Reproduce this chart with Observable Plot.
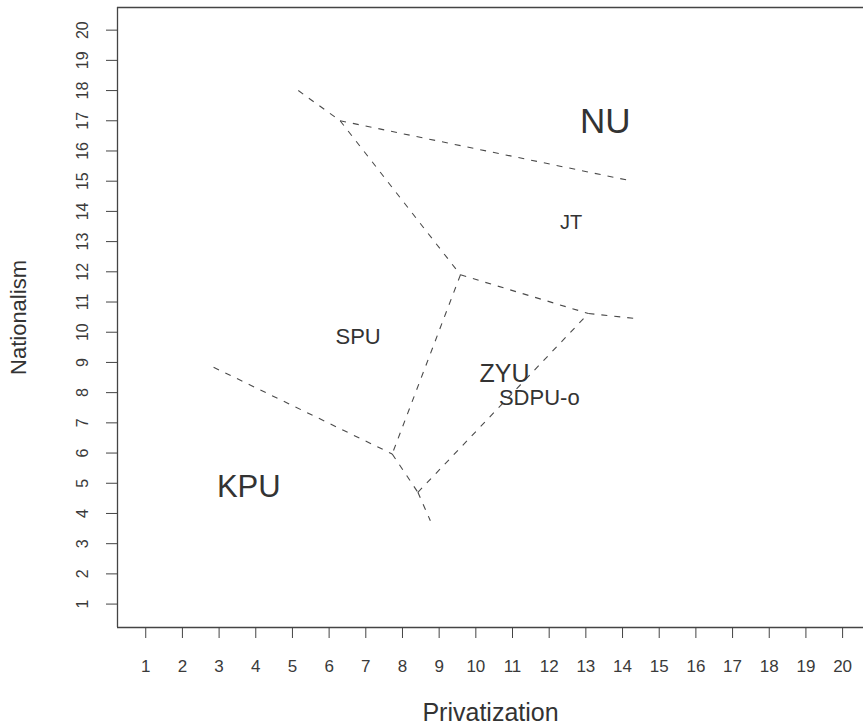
<!DOCTYPE html>
<html>
<head>
<meta charset="utf-8">
<script src="https://cdn.jsdelivr.net/npm/d3@7"></script>
<script src="https://cdn.jsdelivr.net/npm/@observablehq/plot@0.6"></script>
<style>
  html, body { margin: 0; padding: 0; background: #ffffff; }
  #chart svg { display: block; }
  #chart svg g[aria-label="x-axis tick label"],
  #chart svg g[aria-label="x-axis tick label"] text { font-size: 17px !important; }
  #chart svg g[aria-label="y-axis tick label"],
  #chart svg g[aria-label="y-axis tick label"] text { font-size: 16px !important; }
</style>
</head>
<body>
<div id="chart"></div>
<script>
// ---- data ----
const xTicks = [1,2,3,4,5,6,7,8,9,10,11,12,13,14,15,16,17,18,19,20];
const yTicks = [1,2,3,4,5,6,7,8,9,10,11,12,13,14,15,16,17,18,19,20];

// boundary segments (Privatization, Nationalism)
const segFromX = [5.16, 6.30, 6.30, 9.58, 13.07, 9.58, 2.85, 7.72, 8.42, 8.42];
const segFromY = [18.00, 17.00, 17.00, 11.90, 10.62, 11.90, 8.84, 5.97, 4.70, 4.70];
const segToX   = [6.30, 14.16, 9.58, 13.07, 14.38, 7.72, 7.72, 8.42, 8.76, 13.07];
const segToY   = [17.00, 15.03, 11.90, 10.62, 10.45, 5.97, 5.97, 4.70, 3.76, 10.62];

// party labels
const partyNames = ["NU", "JT", "SPU", "ZYU", "SDPU-o", "KPU"];
const partyX = [13.53, 12.60, 6.79, 10.78, 11.73, 3.81];
const partyY = [16.95, 13.63, 9.86, 8.63, 7.84, 4.86];

const xTitle = "Privatization";
const yTitle = "Nationalism";

// ---- styles ----
const labelFontSize = {"NU": 35, "JT": 20, "SPU": 22, "ZYU": 25, "SDPU-o": 22, "KPU": 31};
const segments = segFromX.map((_, i) => ({x1: segFromX[i], y1: segFromY[i], x2: segToX[i], y2: segToY[i]}));
const parties = partyNames.map((name, i) => ({name, x: partyX[i], y: partyY[i]}));

const chart = Plot.plot({
  width: 863,
  height: 725,
  marginLeft: 117,
  marginRight: 0,
  marginTop: 7,
  marginBottom: 98,
  x: {domain: [0.23, 20.57]},
  y: {domain: [0.225, 20.75]},
  style: {
    fontFamily: "'Liberation Sans', Arial, Helvetica, sans-serif",
    fontSize: "15px",
    color: "#3a3a3a",
    background: "#ffffff",
    overflow: "visible"
  },
  marks: [
    // frame (left, top, bottom)
    Plot.ruleX([0.23], {stroke: "#444", strokeWidth: 1.3}),
    Plot.ruleY([0.225, 20.75], {stroke: "#444", strokeWidth: 1.3}),
    Plot.axisX(xTicks, {
      tickSize: 11, tickPadding: 21, fontSize: 17, label: null,
      tickFormat: d => String(d), stroke: "#444"
    }),
    Plot.axisY(yTicks, {
      tickSize: 11, tickPadding: 19, tickRotate: -90, fontSize: 16, label: null,
      tickFormat: d => String(d), stroke: "#444"
    }),
    Plot.link(segments, {
      x1: "x1", y1: "y1", x2: "x2", y2: "y2",
      stroke: "#4a4a4a", strokeWidth: 1.1, strokeDasharray: "6,7"
    }),
    Plot.text(parties, {
      x: "x", y: "y", text: "name",
      fontSize: d => labelFontSize[d.name],
      fill: "#333", textAnchor: "middle", lineAnchor: "middle"
    }),
    Plot.text([xTitle], {
      frameAnchor: "bottom", dy: 85, text: d => d,
      fontSize: 25, fill: "#333", textAnchor: "middle", lineAnchor: "middle"
    }),
    Plot.text([yTitle], {
      frameAnchor: "left", dx: -99, rotate: -90, text: d => d,
      fontSize: 22, fill: "#333", textAnchor: "middle", lineAnchor: "middle"
    })
  ]
});
document.getElementById("chart").appendChild(chart);
</script>
</body>
</html>
